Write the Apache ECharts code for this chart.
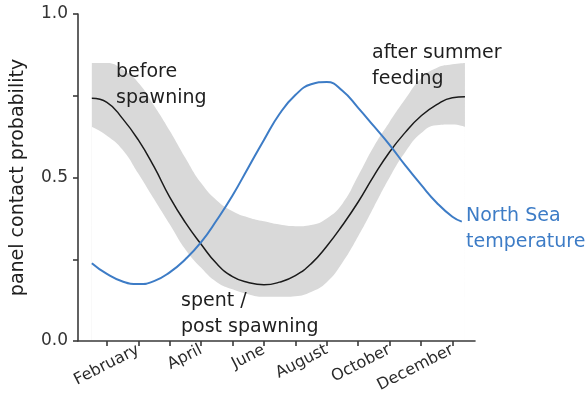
<!DOCTYPE html>
<html>
<head>
<meta charset="utf-8">
<script src="https://cdn.jsdelivr.net/npm/echarts@6/dist/echarts.min.js"></script>
<style>
  html, body { margin: 0; padding: 0; background: #fff; }
  #chart { width: 585px; height: 403px; }
</style>
</head>
<body>
<div id="chart"></div>
<script>
// month positions (1 = January ... 12 = December)
var months = [0.52, 1, 1.5, 2, 2.5, 3, 3.5, 4, 4.5, 5, 5.5, 6, 6.5, 7, 7.5, 8, 8.5, 9, 9.5, 10, 10.5, 11, 11.5, 12, 12.4];
// panel contact probability (fit) and its confidence band
var contactFit = [0.742, 0.73, 0.68, 0.615, 0.533, 0.44, 0.362, 0.296, 0.236, 0.197, 0.179, 0.172, 0.18, 0.2, 0.236, 0.29, 0.354, 0.425, 0.505, 0.578, 0.638, 0.688, 0.723, 0.744, 0.747];
var bandUpper = [0.85, 0.85, 0.83, 0.79, 0.72, 0.643, 0.56, 0.483, 0.43, 0.397, 0.378, 0.366, 0.356, 0.351, 0.355, 0.375, 0.42, 0.505, 0.595, 0.67, 0.74, 0.803, 0.835, 0.846, 0.85];
var bandLower = [0.655, 0.628, 0.585, 0.512, 0.434, 0.357, 0.28, 0.224, 0.18, 0.158, 0.143, 0.135, 0.135, 0.137, 0.15, 0.18, 0.24, 0.32, 0.41, 0.5, 0.578, 0.635, 0.66, 0.662, 0.655];
// North Sea temperature (scaled)
var tempMonths = [0.52, 1, 1.5, 2, 2.5, 3, 3.5, 4, 4.5, 5, 5.5, 6, 6.5, 7, 7.5, 8, 8.5, 9, 9.5, 10, 10.5, 11, 11.5, 12, 12.3];
var temperature = [0.238, 0.205, 0.182, 0.174, 0.183, 0.21, 0.25, 0.302, 0.37, 0.445, 0.53, 0.615, 0.695, 0.752, 0.785, 0.792, 0.765, 0.713, 0.657, 0.6, 0.537, 0.478, 0.423, 0.38, 0.365];

var tickMonths = [1, 2, 3, 4, 5, 6, 7, 8, 9, 10, 11, 12];
var labelMonths = [2, 4, 6, 8, 10, 12];
var monthNames = ['January', 'February', 'March', 'April', 'May', 'June', 'July', 'August', 'September', 'October', 'November', 'December'];
var yLabels = [0, 0.5, 1];

function pairs(xs, ys) {
    return xs.map(function (x, i) { return [x, ys[i]] })
}

var FONT = 'DejaVu Sans';
var BLUE = '#3d7cc6';
var TXT = '#1e1e1e';

var chart = echarts.init(document.getElementById('chart'));
var option = {
    animation: false,
    backgroundColor: '#fff',
    grid: { left: 78, right: 110, top: 14, bottom: 62 },
    xAxis: {
        type: 'value',
        min: 0.08,
        max: 12.72,
        z: 5,
        splitLine: { show: false },
        axisLine: { show: true, lineStyle: { color: '#3a3a3a', width: 1.6 } },
        axisTick: { show: true, length: 5, customValues: tickMonths, lineStyle: { color: '#3a3a3a', width: 1.6 } },
        axisLabel: {
            customValues: labelMonths,
            rotate: 27,
            margin: 8,
            fontFamily: FONT,
            fontSize: 16,
            color: '#2a2a2a',
            formatter: function (v) { return monthNames[Math.round(v) - 1] }
        }
    },
    yAxis: {
        type: 'value',
        min: 0,
        max: 1,
        interval: 0.25,
        z: 5,
        name: 'panel contact probability',
        nameLocation: 'middle',
        nameGap: 50,
        nameTextStyle: { fontFamily: FONT, fontSize: 19, color: TXT },
        splitLine: { show: false },
        axisLine: { show: true, lineStyle: { color: '#3a3a3a', width: 1.6 } },
        axisTick: { show: true, length: 5, lineStyle: { color: '#3a3a3a', width: 1.6 } },
        axisLabel: {
            customValues: yLabels,
            margin: 10,
            fontFamily: FONT,
            fontSize: 17,
            color: '#333',
            formatter: function (v) { return v.toFixed(1) }
        }
    },
    graphic: [
        { type: 'text', z: 100, left: 116, top: 59, style: { text: 'before\nspawning', fontFamily: FONT, fontSize: 19, lineHeight: 26, fill: TXT } },
        { type: 'text', z: 100, left: 372, top: 40, style: { text: 'after summer\nfeeding', fontFamily: FONT, fontSize: 19, lineHeight: 26, fill: TXT } },
        { type: 'text', z: 100, left: 181, top: 288, style: { text: 'spent /\npost spawning', fontFamily: FONT, fontSize: 19, lineHeight: 26, fill: TXT } },
        { type: 'text', z: 100, left: 466, top: 203, style: { text: 'North Sea\ntemperature', fontFamily: FONT, fontSize: 19, lineHeight: 26, fill: BLUE } }
    ],
    series: [
        {
            // grey band: upper edge filled down to the axis
            type: 'line',
            data: pairs(months, bandUpper),
            smooth: true,
            showSymbol: false,
            lineStyle: { width: 0 },
            areaStyle: { color: '#d9d9d9', opacity: 1 },
            z: 1,
            silent: true
        },
        {
            // lower edge cut out in white
            type: 'line',
            data: pairs(months, bandLower),
            smooth: true,
            showSymbol: false,
            lineStyle: { width: 0 },
            areaStyle: { color: '#ffffff', opacity: 1 },
            z: 2,
            silent: true
        },
        {
            name: 'contact',
            type: 'line',
            data: pairs(months, contactFit),
            smooth: true,
            showSymbol: false,
            lineStyle: { color: '#1a1a1a', width: 1.5 },
            z: 3
        },
        {
            name: 'North Sea temperature',
            type: 'line',
            data: pairs(tempMonths, temperature),
            smooth: true,
            showSymbol: false,
            lineStyle: { color: BLUE, width: 2 },
            z: 4
        }
    ]
};
chart.setOption(option);
</script>
</body>
</html>
